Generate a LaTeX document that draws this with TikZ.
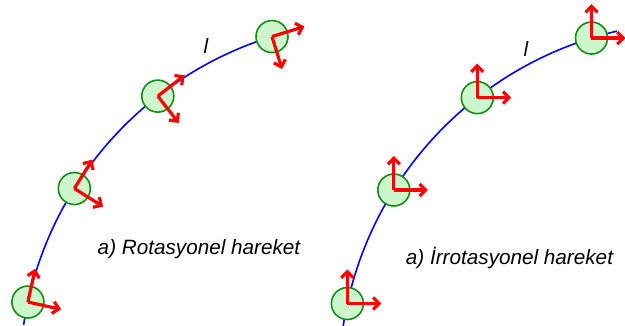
\documentclass[tikz,border=0pt]{standalone}
\usepackage{fontspec}
\setmainfont{Liberation Sans}
\usetikzlibrary{arrows.meta}
\definecolor{topfill}{HTML}{CCF7CC}
\definecolor{topline}{HTML}{168C16}
\tikzset{
  top/.style={circle,draw=topline,fill=topfill,line width=1.6pt,minimum size=32pt,inner sep=0pt},
  yol/.style={blue,line width=1.6pt},
  eksen/.style={red,line width=3.2pt,-{Straight Barb[length=6pt,width=12pt]}},
  yazi/.style={font=\fontsize{20.7}{24}\selectfont\itshape}
}

\begin{document}
\begin{tikzpicture}[x=1pt,y=1pt]
	\useasboundingbox (0,0) rectangle (625,325);

	% a) rotasyonel
	\coordinate (Rm) at (378,-54);
	\draw[yol] (Rm) ++(171.3:358.5) arc[start angle=171.3,end angle=107.2,radius=358.5];
	\foreach \t [count=\i] in {167.6,147.9,127.9,107.2} {
		\path (Rm) ++(\t:358.5) node[top] (R\i) {};
		\draw[eksen] (R\i.center) -- ++(\t-90:34);
		\draw[eksen] (R\i.center) -- ++(\t-180:34);
	}
	\node[yazi] (Rl) at (206,279) {l};
	\node[yazi,anchor=base] (Ry) at (199,71) {a) Rotasyonel hareket};

	% b) irrotasyonel
	\coordinate (Im) at (697.5,-55.5);
	\draw[yol] (Im) ++(171.3:358.5) arc[start angle=171.3,end angle=103,radius=358.5];
	\foreach \t [count=\i] in {167.6,147.9,127.9,107.2} {
		\path (Im) ++(\t:358.5) node[top] (I\i) {};
		\draw[eksen] (I\i.center) -- ++(90:34);
		\draw[eksen] (I\i.center) -- ++(0:34);
	}
	\node[yazi] (Il) at (526,276) {l};
	\node[yazi,anchor=base] (Iy) at (509.5,61) {a) İrrotasyonel hareket};
\end{tikzpicture}
\end{document}
